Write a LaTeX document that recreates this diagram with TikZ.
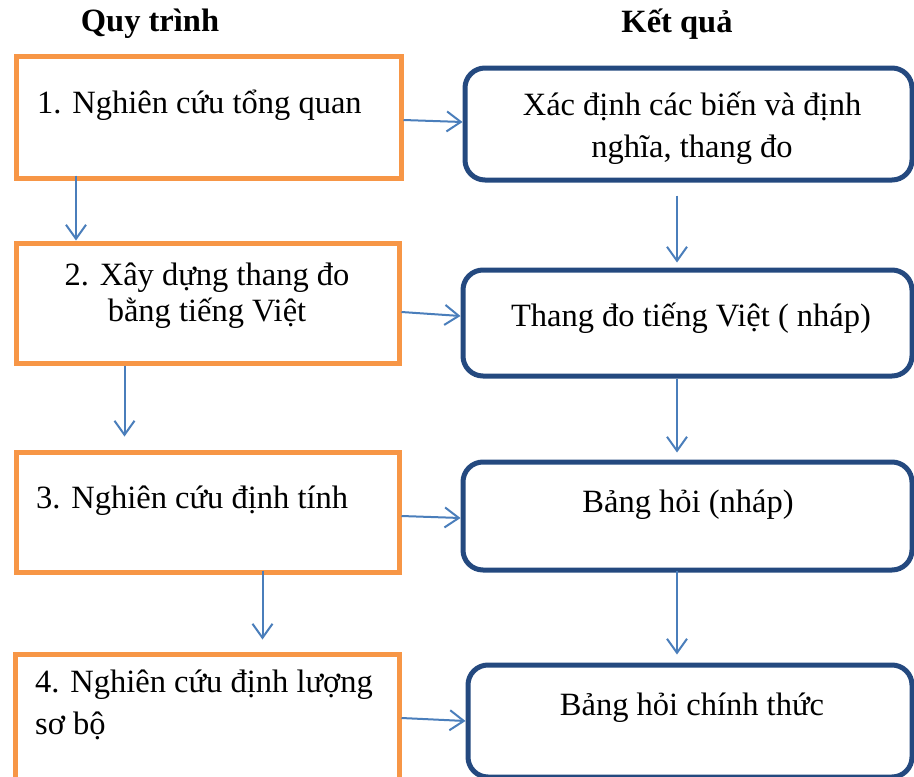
\documentclass[tikz,border=0pt]{standalone}
\usepackage{fontspec}
\setmainfont{Liberation Serif}
\usetikzlibrary{arrows.meta}
\definecolor{orangeC}{HTML}{F79646}
\definecolor{blueC}{HTML}{24497F}
\definecolor{arrowC}{HTML}{4A7EBB}
\tikzset{
  obox/.style={draw=orangeC, line width=5pt, inner sep=0pt},
  bbox/.style={draw=blueC, line width=5pt, rounded corners=20pt, inner sep=0pt},
  txt/.style={inner sep=0pt, font=\fontsize{32.5}{40}\selectfont},
  head/.style={inner sep=0pt, font=\fontsize{32.5}{40}\selectfont\bfseries},
  arr/.style={draw=arrowC, line width=2pt, -{Straight Barb[length=14pt,width=20pt,line width=2pt]}}
}
\begin{document}
\begin{tikzpicture}[x=1pt,y=-1pt]
\useasboundingbox (0,0) rectangle (914,777);
% boxes
\node[obox, minimum width=385pt, minimum height=122pt] (b1) at (208.5,117) {};
\node[obox, minimum width=383pt, minimum height=120pt] (b2) at (207.5,303) {};
\node[obox, minimum width=383pt, minimum height=120pt] (b3) at (207.5,512) {};
\node[obox, minimum width=384pt, minimum height=128pt] (b4) at (207,718) {};
\node[bbox, minimum width=447pt, minimum height=112pt] (r1) at (688.5,124) {};
\node[bbox, minimum width=449pt, minimum height=106pt] (r2) at (687.5,323) {};
\node[bbox, minimum width=449pt, minimum height=108pt] (r3) at (687.5,516) {};
\node[bbox, minimum width=444pt, minimum height=112pt] (r4) at (690,721) {};
% headers
\node[head, anchor=base] (h1) at (150,31) {Quy trình};
\node[head, anchor=base] (h2) at (677,32) {Kết quả};
% texts
\node[txt, anchor=base west] (t1) at (37,113) {1. Nghiên cứu tổng quan};
\node[txt, anchor=base] (r1a) at (692,115) {Xác định các biến và định};
\node[txt, anchor=base] (r1b) at (692,157) {nghĩa, thang đo};
\node[txt, anchor=base] (t2a) at (207,285) {2. Xây dựng thang đo};
\node[txt, anchor=base] (t2b) at (207,321) {bằng tiếng Việt};
\node[txt, anchor=base] (r2t) at (691,326) {Thang đo tiếng Việt ( nháp)};
\node[txt, anchor=base west] (t3) at (36,508) {3. Nghiên cứu định tính};
\node[txt, anchor=base] (r3t) at (688,512) {Bảng hỏi (nháp)};
\node[txt, anchor=base west] (t4a) at (35,692) {4. Nghiên cứu định lượng};
\node[txt, anchor=base west] (t4b) at (35,734) {sơ bộ};
\node[txt, anchor=base] (r4t) at (692,715) {Bảng hỏi chính thức};
% horizontal arrows
\draw[arr] ([yshift=-3pt]b1.east) -- ([yshift=2pt]r1.west);
\draw[arr] ([yshift=-9pt]b2.east) -- ([yshift=7pt]r2.west);
\draw[arr] ([yshift=-4pt]b3.east) -- ([yshift=-2pt]r3.west);
\draw[arr] ([yshift=0pt]b4.east) -- ([yshift=0pt]r4.west);
% vertical arrows
\draw[arr] ([xshift=-132.5pt,yshift=5pt]b1.south) -- ([xshift=-132.5pt,yshift=0pt]b1.south |- b2.north);
\draw[arr] ([xshift=-83pt,yshift=0pt]b2.south) -- ([xshift=-83pt,yshift=13pt]b2.south |- b3.north);
\draw[arr] ([xshift=55pt,yshift=4pt]b3.south) -- ([xshift=55pt,yshift=12pt]b3.south |- b4.north);
\draw[arr] ([xshift=-11.5pt,yshift=-13pt]r1.south) -- ([xshift=-11.5pt,yshift=5pt]r1.south |- r2.north);
\draw[arr] ([xshift=-10.5pt]r2.south) -- ([xshift=-10.5pt,yshift=7pt]r2.south |- r3.north);
\draw[arr] ([xshift=-10.5pt,yshift=2pt]r3.south) -- ([xshift=-10.5pt,yshift=8pt]r3.south |- r4.north);
\end{tikzpicture}
\end{document}
